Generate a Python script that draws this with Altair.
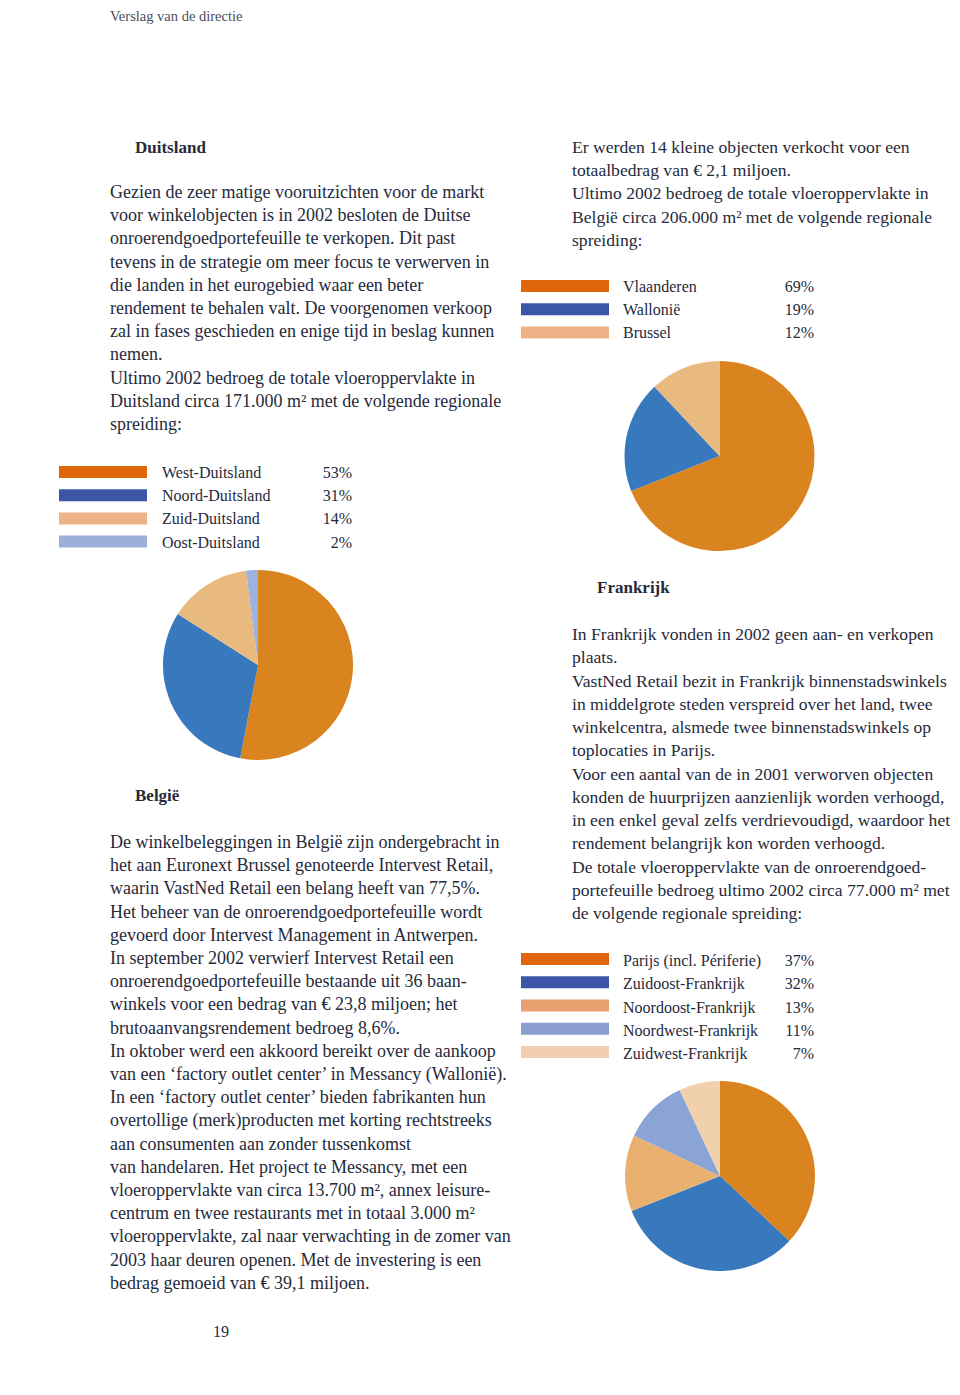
import altair as alt
import pandas as pd

# ---------------- content ----------------
header_text = "Verslag van de directie"
page_number = "19"

de_title = "Duitsland"
de_body = [
    "Gezien de zeer matige vooruitzichten voor de markt",
    "voor winkelobjecten is in 2002 besloten de Duitse",
    "onroerendgoedportefeuille te verkopen. Dit past",
    "tevens in de strategie om meer focus te verwerven in",
    "die landen in het eurogebied waar een beter",
    "rendement te behalen valt. De voorgenomen verkoop",
    "zal in fases geschieden en enige tijd in beslag kunnen",
    "nemen.",
    "Ultimo 2002 bedroeg de totale vloeroppervlakte in",
    "Duitsland circa 171.000 m² met de volgende regionale",
    "spreiding:",
]
de_regions = ["West-Duitsland", "Noord-Duitsland", "Zuid-Duitsland", "Oost-Duitsland"]
de_values = [53, 31, 14, 2]

be_intro = [
    "Er werden 14 kleine objecten verkocht voor een",
    "totaalbedrag van € 2,1 miljoen.",
    "Ultimo 2002 bedroeg de totale vloeroppervlakte in",
    "België circa 206.000 m² met de volgende regionale",
    "spreiding:",
]
be_regions = ["Vlaanderen", "Wallonië", "Brussel"]
be_values = [69, 19, 12]

be_title = "België"
be_body = [
    "De winkelbeleggingen in België zijn ondergebracht in",
    "het aan Euronext Brussel genoteerde Intervest Retail,",
    "waarin VastNed Retail een belang heeft van 77,5%.",
    "Het beheer van de onroerendgoedportefeuille wordt",
    "gevoerd door Intervest Management in Antwerpen.",
    "In september 2002 verwierf Intervest Retail een",
    "onroerendgoedportefeuille bestaande uit 36 baan-",
    "winkels voor een bedrag van € 23,8 miljoen; het",
    "brutoaanvangsrendement bedroeg 8,6%.",
    "In oktober werd een akkoord bereikt over de aankoop",
    "van een ‘factory outlet center’ in Messancy (Wallonië).",
    "In een ‘factory outlet center’ bieden fabrikanten hun",
    "overtollige (merk)producten met korting rechtstreeks",
    "aan consumenten aan zonder tussenkomst",
    "van handelaren. Het project te Messancy, met een",
    "vloeroppervlakte van circa 13.700 m², annex leisure-",
    "centrum en twee restaurants met in totaal 3.000 m²",
    "vloeroppervlakte, zal naar verwachting in de zomer van",
    "2003 haar deuren openen. Met de investering is een",
    "bedrag gemoeid van € 39,1 miljoen.",
]

fr_title = "Frankrijk"
fr_body = [
    "In Frankrijk vonden in 2002 geen aan- en verkopen",
    "plaats.",
    "VastNed Retail bezit in Frankrijk binnenstadswinkels",
    "in middelgrote steden verspreid over het land, twee",
    "winkelcentra, alsmede twee binnenstadswinkels op",
    "toplocaties in Parijs.",
    "Voor een aantal van de in 2001 verworven objecten",
    "konden de huurprijzen aanzienlijk worden verhoogd,",
    "in een enkel geval zelfs verdrievoudigd, waardoor het",
    "rendement belangrijk kon worden verhoogd.",
    "De totale vloeroppervlakte van de onroerendgoed-",
    "portefeuille bedroeg ultimo 2002 circa 77.000 m² met",
    "de volgende regionale spreiding:",
]
fr_regions = ["Parijs (incl. Périferie)", "Zuidoost-Frankrijk", "Noordoost-Frankrijk",
              "Noordwest-Frankrijk", "Zuidwest-Frankrijk"]
fr_values = [37, 32, 13, 11, 7]

# ---------------- style ----------------
FONT = "Liberation Serif"
INK = "#262a3b"
W, H, M = 944, 1379, 8
LINE = 23.2

de_swatch = ["#E0660C", "#3B56A6", "#EDB285", "#9BAFD8"]
de_pie = ["#D9841F", "#3878BC", "#E9BA80", "#9DB2DD"]
be_swatch = ["#E0660C", "#3B56A6", "#EDB285"]
be_pie = ["#D9841F", "#3878BC", "#E9BA80"]
fr_swatch = ["#E0660C", "#3B56A6", "#E9A070", "#8A9FD0", "#F2CEB0"]
fr_pie = ["#D9841F", "#3878BC", "#E9B070", "#8BA4D6", "#F1D0AE"]

xs = alt.Scale(domain=[M, M + W], nice=False, zero=False)
ys = alt.Scale(domain=[M + H, M], nice=False, zero=False)


def text_layer(rows, size, weight="normal", align="left", color=INK):
    df = pd.DataFrame(rows, columns=["x", "y", "t"])
    return alt.Chart(df).mark_text(
        font=FONT, fontSize=size, fontWeight=weight, align=align,
        baseline="alphabetic", color=color
    ).encode(
        x=alt.X("x:Q", scale=xs, axis=None),
        y=alt.Y("y:Q", scale=ys, axis=None),
        text="t:N",
    )


def para(lines, x, y0, step=LINE):
    return [(x, y0 + i * step, s) for i, s in enumerate(lines)]


def swatch_layer(regions, colors, x0, x1, top, step, h):
    n = len(regions)
    df = pd.DataFrame({"region": regions, "i": list(range(n))})
    df["y0"] = top + df["i"] * step
    df["y1"] = df["y0"] + h
    df["x0"] = x0
    df["x1"] = x1
    return alt.Chart(df).mark_rect().encode(
        x=alt.X("x0:Q", scale=xs, axis=None), x2="x1:Q",
        y=alt.Y("y0:Q", scale=ys, axis=None), y2="y1:Q",
        color=alt.Color("region:N", scale=alt.Scale(domain=regions, range=colors), legend=None),
    )


def pie_layer(regions, values, colors, cx, cy, r):
    df = pd.DataFrame({"region": regions, "value": values, "k": list(range(len(regions)))})
    return alt.Chart(df).mark_arc(radius=r).encode(
        theta=alt.Theta("value:Q", stack=True),
        color=alt.Color("region:N", scale=alt.Scale(domain=regions, range=colors), legend=None),
        order=alt.Order("k:Q"),
        x=alt.value(cx - M),
        y=alt.value(cy - M),
    )


def legend_text(regions, values, xl, xr, y0, step=LINE):
    labels = [(xl, y0 + i * step, s) for i, s in enumerate(regions)]
    pcts = [(xr, y0 + i * step, f"{v}%") for i, v in enumerate(values)]
    return [text_layer(labels, 16), text_layer(pcts, 16, align="right")]


layers = []
# header & page number
layers.append(text_layer([(110, 21, header_text)], 14.5, color="#4a4d5a"))
layers.append(text_layer([(221, 1337, page_number)], 16, align="center"))
# headings
layers.append(text_layer([(135, 153, de_title), (597, 593, fr_title), (135, 801, be_title)], 17, weight="bold"))
# body text, left column
layers.append(text_layer(para(de_body, 110, 198) + para(be_body, 110, 848), 18))
# body text, right column
layers.append(text_layer(para(be_intro, 572, 153) + para(fr_body, 572, 640, 23.25), 17.6))

# Belgium legend + pie
layers.append(swatch_layer(be_regions, be_swatch, 521, 609, 280, LINE, 12))
layers += legend_text(be_regions, be_values, 623, 814, 292)
layers.append(pie_layer(be_regions, be_values, be_pie, 719.5, 456, 95))

# Germany legend + pie
layers.append(swatch_layer(de_regions, de_swatch, 59, 147, 466, LINE, 12))
layers += legend_text(de_regions, de_values, 162, 352, 478)
layers.append(pie_layer(de_regions, de_values, de_pie, 258, 665, 95))

# France legend + pie
layers.append(swatch_layer(fr_regions, fr_swatch, 521, 609, 953, 23.25, 12))
layers += legend_text(fr_regions, fr_values, 623, 814, 966, 23.25)
layers.append(pie_layer(fr_regions, fr_values, fr_pie, 720, 1176, 95))

chart = alt.layer(*layers).resolve_scale(
    color="independent", theta="independent"
).properties(
    width=W, height=H,
    autosize=alt.AutoSizeParams(type="none"),
    padding=0,
    background="white",
).configure_view(stroke=None)

chart.save("out.html", embed_options={"renderer": "svg", "actions": False})
